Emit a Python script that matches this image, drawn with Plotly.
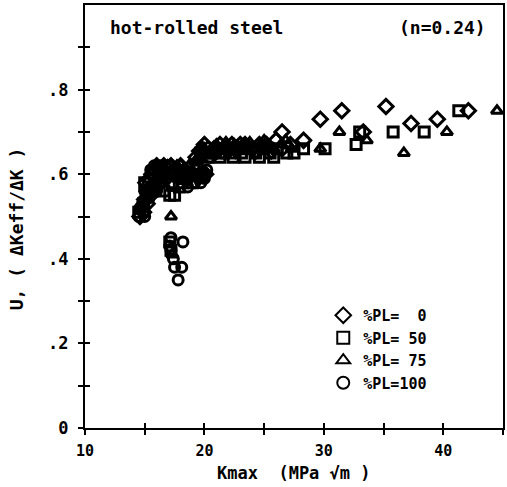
import plotly.graph_objects as go

# ---- data ----
pl0_x = [14.6, 14.8, 15.0, 15.2, 15.1, 15.4, 15.6, 15.8, 16.0, 16.3, 16.6, 17.0, 17.4, 17.8, 18.3,
         18.8, 19.3, 19.8, 20.3, 20.8, 21.3, 21.8, 22.3, 22.8, 23.4, 24.0, 24.6, 25.2, 26.0, 26.5,
         27.2, 28.3, 29.7, 31.5, 33.3, 35.2, 37.3, 39.5, 42.1,
         14.9, 15.2, 15.5, 15.9, 16.2, 16.8, 17.2, 18.0, 18.6, 19.6, 20.1,
         19.6, 20.0, 21.0, 22.0, 23.0, 24.3, 25.6, 26.5]
pl0_y = [0.50, 0.52, 0.54, 0.56, 0.58, 0.59, 0.60, 0.61, 0.62, 0.61, 0.62, 0.61, 0.60, 0.61, 0.60,
         0.60, 0.64, 0.65, 0.66, 0.66, 0.67, 0.66, 0.67, 0.66, 0.67, 0.66, 0.67, 0.67, 0.68, 0.70,
         0.67, 0.68, 0.73, 0.75, 0.70, 0.76, 0.72, 0.73, 0.75,
         0.51, 0.53, 0.55, 0.57, 0.59, 0.59, 0.62, 0.62, 0.59, 0.60, 0.60,
         0.655, 0.67, 0.655, 0.655, 0.67, 0.655, 0.655, 0.66]

pl50_x = [14.5, 14.9, 15.3, 15.7, 16.2, 16.6, 17.1, 17.5, 17.9, 18.4, 18.9, 19.4, 19.7, 20.1, 20.6,
          21.1, 21.6, 22.1, 22.6, 23.1, 23.7, 24.3, 24.9, 25.5, 26.1, 26.9, 28.3, 30.1, 32.7, 33.0,
          35.8, 38.4, 41.3, 17.1, 17.2,
          15.0, 15.8, 16.5, 17.3, 18.2, 19.0,
          20.3, 21.3, 22.4, 23.4, 24.6, 25.8, 27.5]
pl50_y = [0.51, 0.53, 0.55, 0.57, 0.58, 0.56, 0.55, 0.55, 0.57, 0.59, 0.60, 0.62, 0.65, 0.65, 0.65,
          0.66, 0.65, 0.65, 0.66, 0.65, 0.66, 0.65, 0.66, 0.65, 0.66, 0.65, 0.66, 0.66, 0.67, 0.70,
          0.70, 0.70, 0.75, 0.44, 0.42,
          0.58, 0.60, 0.60, 0.58, 0.58, 0.58,
          0.64, 0.64, 0.64, 0.64, 0.64, 0.64, 0.65]

pl75_x = [14.7, 15.1, 15.5, 16.0, 16.5, 16.9, 17.2, 17.3, 17.7, 18.2, 18.7, 19.2, 19.6, 20.0, 20.5,
          21.0, 21.5, 22.0, 22.5, 23.0, 23.5, 24.1, 24.7, 25.3, 25.8, 26.4, 27.3, 29.7, 31.3, 33.6,
          36.7, 40.3, 44.5, 17.3,
          19.8, 21.8, 23.8, 25.0, 26.8]
pl75_y = [0.52, 0.55, 0.57, 0.59, 0.60, 0.62, 0.50, 0.60, 0.62, 0.61, 0.62, 0.63, 0.64, 0.66, 0.65,
          0.67, 0.66, 0.66, 0.67, 0.66, 0.67, 0.66, 0.67, 0.67, 0.66, 0.67, 0.66, 0.66, 0.70, 0.68,
          0.65, 0.70, 0.75, 0.41,
          0.665, 0.675, 0.675, 0.68, 0.68]

pl100_x = [14.5, 14.8, 15.0, 15.3, 15.5, 15.8, 16.1, 16.4, 16.8, 17.2, 17.6, 18.0, 18.5, 19.0, 19.5,
           19.9, 20.2, 19.2, 18.6, 20.5, 21.0, 21.5, 22.2, 23.0, 17.2, 18.2, 17.1, 17.2, 17.4, 17.5,
           18.1, 17.8,
           14.6, 15.0, 15.2, 15.6, 16.0, 16.3, 16.6, 17.0, 17.9, 18.3, 19.3, 19.7, 20.0]
pl100_y = [0.50, 0.53, 0.56, 0.58, 0.61, 0.62, 0.60, 0.58, 0.59, 0.60, 0.61, 0.60, 0.59, 0.60, 0.59,
           0.60, 0.61, 0.58, 0.57, 0.64, 0.65, 0.65, 0.66, 0.66, 0.45, 0.44, 0.43, 0.42, 0.40, 0.38,
           0.38, 0.35,
           0.52, 0.50, 0.55, 0.57, 0.56, 0.62, 0.61, 0.62, 0.62, 0.61, 0.61, 0.58, 0.59]

series_names = ["%PL=  0", "%PL= 50", "%PL= 75", "%PL=100"]
series_symbols = ["diamond-open", "square-open", "triangle-up-open", "circle-open"]
series_sizes = [11, 10, 10, 10]

x_tickvals = [10, 15, 20, 25, 30, 35, 40, 45]
x_ticktext = ["10", "", "20", "", "30", "", "40", ""]
y_tickvals = [0, 0.1, 0.2, 0.3, 0.4, 0.5, 0.6, 0.7, 0.8, 0.9]
y_ticktext = ["0", "", ".2", "", ".4", "", ".6", "", ".8", ""]

FONT = "DejaVu Sans Mono"
fig = go.Figure()
for xs, ys, name, sym, sz in zip([pl0_x, pl50_x, pl75_x, pl100_x], [pl0_y, pl50_y, pl75_y, pl100_y],
                                 series_names, series_symbols, series_sizes):
    fig.add_trace(go.Scatter(x=xs, y=ys, mode="markers", name=name, legendgroup=name,
                             marker=dict(symbol=sym, size=sz, color="black",
                                         line=dict(color="black", width=3))))

# overlay axes to draw the inner half of the cross ticks
fig.add_trace(go.Scatter(x=[None], y=[None], xaxis="x2", yaxis="y2", showlegend=False,
                         hoverinfo="skip"))

tick_style = dict(showgrid=False, zeroline=False, color="black", tickcolor="black",
                  tickwidth=2, ticklen=5)
fig.update_layout(
    width=507, height=487, margin=dict(l=85, r=2, t=5, b=59),
    plot_bgcolor="white", paper_bgcolor="white",
    font=dict(family=FONT, size=17, color="black", weight="bold"),
    xaxis=dict(range=[10, 45], tickmode="array", tickvals=x_tickvals, ticktext=x_ticktext,
               ticks="outside", ticklabelstandoff=3,
               tickfont=dict(family=FONT, size=15, color="black", weight="bold"),
               showline=True, linecolor="black", linewidth=2, mirror=True, **tick_style),
    yaxis=dict(range=[0, 1], tickmode="array", tickvals=y_tickvals, ticktext=y_ticktext,
               ticks="outside", ticklabelstandoff=6,
               showline=True, linecolor="black", linewidth=2, mirror=True, **tick_style),
    xaxis2=dict(range=[10, 45], overlaying="x", tickmode="array", tickvals=x_tickvals,
                ticks="inside", showticklabels=False, showline=False, **tick_style),
    yaxis2=dict(range=[0, 1], overlaying="y", tickmode="array", tickvals=y_tickvals,
                ticks="inside", showticklabels=False, showline=False, **tick_style),
    showlegend=True,
    legend=dict(x=0.57, y=0.305, xanchor="left", yanchor="top", bgcolor="rgba(0,0,0,0)",
                font=dict(family=FONT, size=15, color="black", weight="bold"),
                tracegroupgap=0, itemsizing="constant"),
)

fig.add_annotation(text="hot-rolled steel", x=0.055, y=0.946, xref="paper", yref="paper",
                   xanchor="left", yanchor="middle", showarrow=False,
                   font=dict(family=FONT, size=18, color="black", weight="bold"))
fig.add_annotation(text="(n=0.24)", x=0.964, y=0.946, xref="paper", yref="paper",
                   xanchor="right", yanchor="middle", showarrow=False,
                   font=dict(family=FONT, size=18, color="black", weight="bold"))
fig.add_annotation(text="Kmax  (MPa √m )", x=0.5, y=-0.107, xref="paper", yref="paper",
                   xanchor="center", yanchor="middle", showarrow=False,
                   font=dict(family=FONT, size=17, color="black", weight="bold"))
fig.add_annotation(text="U, ( ΔKeff/ΔK )", x=-0.165, y=0.47, xref="paper", yref="paper",
                   xanchor="center", yanchor="middle", showarrow=False, textangle=-90,
                   font=dict(family=FONT, size=18, color="black", weight="bold"))

fig.write_html("out.html")
